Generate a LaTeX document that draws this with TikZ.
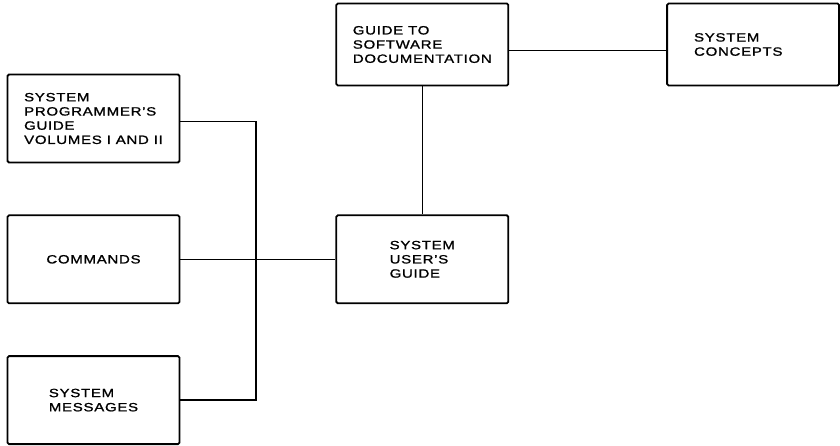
\documentclass[tikz,border=0pt]{standalone}
\usepackage{fontspec}
\setmainfont{Liberation Sans}[FakeStretch=1.25, LetterSpace=6, FakeBold=1.2]
\usetikzlibrary{
  calc,
  positioning,
}

\begin{document}
\begin{tikzpicture}[doc/.style={draw, line width=1.8pt, rounded corners=1.5pt,
      minimum width=172pt, minimum height=88pt, align=left,
      font=\fontsize{12}{14.2}\selectfont},
    top/.style={doc, minimum height=82pt},
    link/.style={line width=1.3pt}]
      \useasboundingbox (0,0) rectangle (840pt,-445pt);

      \node [doc] (spg) at (93.5pt,-118.5pt) {SYSTEM\\PROGRAMMER'S\\GUIDE\\VOLUMES I AND II};
      \node [doc, below=51pt of spg] (cmds) {COMMANDS};
      \node [doc, below=51pt of cmds] (msgs) {SYSTEM\\MESSAGES};
      \node [doc, right=155pt of cmds] (users) {SYSTEM\\USER'S\\GUIDE};
      \node [top, above=128pt of users] (guide) {GUIDE TO\\SOFTWARE\\DOCUMENTATION};
      \node [top, right=157pt of guide, text width=118pt] (concepts) {SYSTEM\\CONCEPTS};

      \coordinate (bus) at (256pt,0);

      \draw [link] ([yshift=-3pt]spg.east) -| (bus |- cmds) |- (msgs.east);
      \draw [link] (cmds) -- (users);
      \draw [link] (guide) -- (users);
      \draw [link] ([yshift=-6pt]guide.east) -- ([yshift=-6pt]guide.east -| concepts.west);
    \end{tikzpicture}
\end{document}
